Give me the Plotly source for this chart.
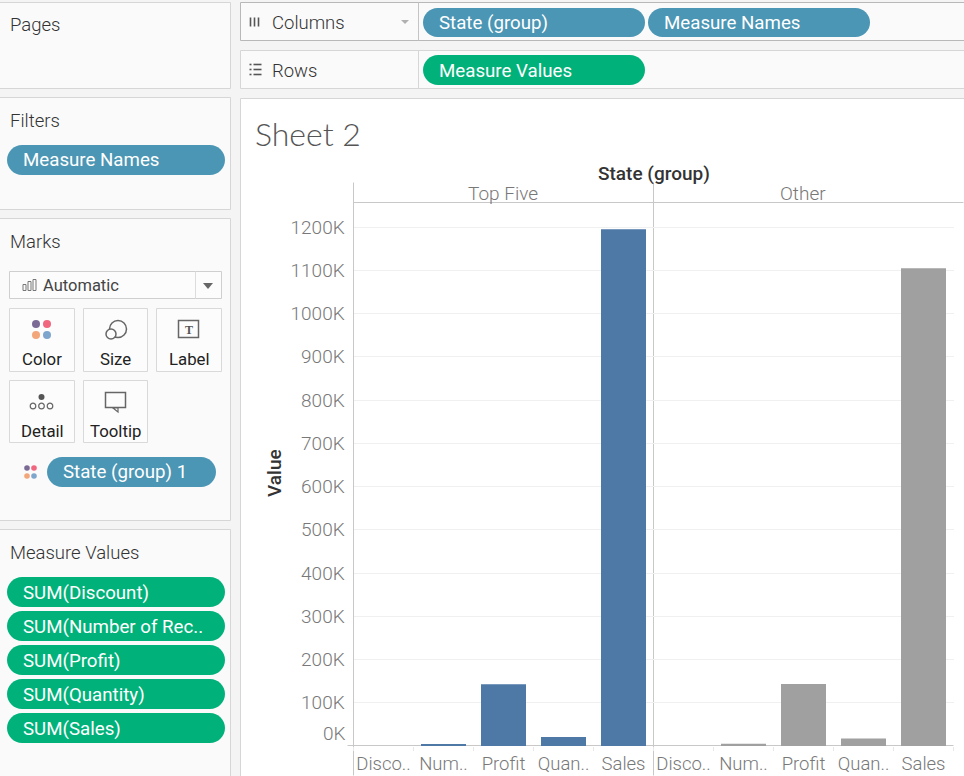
import plotly.graph_objects as go

W, H = 964, 776

# Данные диаграммы
measures = ["Disco..", "Num..", "Profit", "Quan..", "Sales"]
top_five = [0, 4800, 143000, 21000, 1195000]
other = [0, 5000, 143500, 17500, 1105000]
y_ticks = [100000 * i for i in range(1, 13)]
y_labels = [f"{i * 100}K" for i in range(1, 13)]

filter_pills = ["Measure Names"]
value_pills = ["SUM(Discount)", "SUM(Number of Rec..", "SUM(Profit)", "SUM(Quantity)", "SUM(Sales)"]

FONT = "Roboto"
TEAL = "#4b96b4"
GREEN = "#00b27a"
BORDER = "#d6d6d6"
INK = "#333333"
MUTED = "#787878"


def px(x):
    return x / W


def py(y):
    return 1 - y / H


shapes = []
notes = []


def rect(x0, y0, x1, y1, fill="rgba(0,0,0,0)", line=BORDER, width=1):
    shapes.append(dict(type="rect", xref="paper", yref="paper", layer="below",
                       x0=px(x0 - 0.5), x1=px(x1 - 0.5), y0=py(y0 - 0.5), y1=py(y1 - 0.5), fillcolor=fill,
                       line=dict(color=line, width=width)))


def seg(x0, y0, x1, y1, color=BORDER, width=1):
    shapes.append(dict(type="line", xref="paper", yref="paper", layer="below",
                       x0=px(x0 - 0.5), x1=px(x1 - 0.5), y0=py(y0 - 0.5), y1=py(y1 - 0.5),
                       line=dict(color=color, width=width)))


def dot(cx, cy, r, fill="rgba(0,0,0,0)", line="rgba(0,0,0,0)", width=1.5):
    shapes.append(dict(type="circle", xref="paper", yref="paper", layer="below",
                       x0=px(cx - r), x1=px(cx + r), y0=py(cy - r), y1=py(cy + r),
                       fillcolor=fill, line=dict(color=line, width=width)))


def text(x, y, s, size=18.5, color=INK, anchor="left", weight=300, angle=0, family=FONT):
    notes.append(dict(xref="paper", yref="paper", x=px(x), y=py(y), text=s, showarrow=False,
                      xanchor=anchor, yanchor="middle", textangle=angle,
                      font=dict(family=family, size=size, color=color, weight=weight)))


def pill(x0, y0, x1, y1, fill, label):
    r = (y1 - y0) / 2
    k = r * 0.55
    path = (f"M {px(x0 + r)} {py(y0)} L {px(x1 - r)} {py(y0)} "
            f"C {px(x1 - r + k)} {py(y0)} {px(x1)} {py(y0 + r - k)} {px(x1)} {py(y0 + r)} "
            f"C {px(x1)} {py(y0 + r + k)} {px(x1 - r + k)} {py(y1)} {px(x1 - r)} {py(y1)} "
            f"L {px(x0 + r)} {py(y1)} "
            f"C {px(x0 + r - k)} {py(y1)} {px(x0)} {py(y0 + r + k)} {px(x0)} {py(y0 + r)} "
            f"C {px(x0)} {py(y0 + r - k)} {px(x0 + r - k)} {py(y0)} {px(x0 + r)} {py(y0)} Z")
    shapes.append(dict(type="path", xref="paper", yref="paper", layer="below", path=path,
                       fillcolor=fill, line=dict(width=0)))
    text(x0 + 14, (y0 + y1) / 2 + 0.5, label, color="white", size=18.7, weight=400)


# Левые панели
rect(0, 3, 231, 89, "#fafafa")
rect(0, 98, 231, 210, "#fafafa")
rect(0, 219, 231, 521, "#fafafa")
rect(0, 530, 231, 780, "#fafafa")
text(8, 24.5, "Pages")
text(8, 120.5, "Filters")
text(8, 241.5, "Marks")
text(8, 552.5, "Measure Values")

pill(7, 145, 225, 175, TEAL, filter_pills[0])
for i, name in enumerate(value_pills):
    pill(7, 577 + 34 * i, 225, 607 + 34 * i, GREEN, name)

# Карточка Marks
rect(10, 272, 222, 299, "#fcfcfc", "#cfcfcf")
seg(196, 272, 196, 299, "#dcdcdc")
for bx, bh in ((25, 6), (30, 9), (35, 11)):
    rect(bx - 1.5, 291 - bh, bx + 1.5, 291, "rgba(0,0,0,0)", "#777777")
text(41, 285, "Automatic", size=16.5, color="#444444", weight=400)
shapes.append(dict(type="path", xref="paper", yref="paper", layer="below",
                   path=f"M {px(203)} {py(283)} L {px(213)} {py(283)} L {px(208)} {py(289)} Z",
                   fillcolor="#666666", line=dict(width=0)))

for x0, x1, y0, y1, label in ((10, 75, 309, 372, "Color"), (84, 148, 309, 372, "Size"),
                              (157, 222, 309, 372, "Label"), (10, 75, 381, 443, "Detail"),
                              (84, 148, 381, 443, "Tooltip")):
    rect(x0, y0, x1, y1, "#fcfcfc", "#d9d9d9")
    text((x0 + x1) / 2 - 0.5, y0 + 50, label, size=16.8, color="#222222", anchor="center", weight=400)

# Значки карточек
dot(36, 324, 4, "#7b6a96")
dot(47, 324, 4, "#f0667f")
dot(36, 335, 4, "#f2a679")
dot(47, 335, 4, "#7ea6cc")
dot(118, 329, 8.5, "#fcfcfc", "#666666")
dot(111, 334, 5, "#fcfcfc", "#666666")
rect(179, 321, 199, 338, "#fcfcfc", "#666666", 1.5)
text(189, 330, "T", size=12, color="#555555", anchor="center", weight=700, family="Liberation Serif")
dot(41.5, 397, 3, "#555555")
for cx in (33, 41.5, 50):
    dot(cx, 406, 2.8, "rgba(0,0,0,0)", "#666666", 1.2)
rect(106, 393, 126, 408, "#fcfcfc", "#666666", 1.5)
shapes.append(dict(type="path", xref="paper", yref="paper", layer="below",
                   path=f"M {px(113)} {py(408)} L {px(118)} {py(412)} L {px(118)} {py(408)} Z",
                   fillcolor="#fcfcfc", line=dict(color="#666666", width=1.2)))

dot(27, 468, 2.8, "#7b6a96")
dot(34, 468, 2.8, "#f0667f")
dot(27, 476, 2.8, "#f2a679")
dot(34, 476, 2.8, "#7ea6cc")
pill(47, 457, 216, 487, TEAL, "State (group) 1")

# Полки Columns и Rows
rect(241, 3, 980, 41, "#fafafa", "#b8b8b8")
seg(419, 3, 419, 41, "#c4c4c4")
rect(241, 51, 980, 89, "#fafafa", BORDER)
seg(419, 51, 419, 89, BORDER)
for vx in (251, 255, 259):
    seg(vx, 18, vx, 27, "#555555", 1.6)
for vy in (65, 70, 75):
    seg(250, vy, 252, vy, "#555555", 1.6)
    seg(254, vy, 262, vy, "#555555", 1.6)
text(270, 22.5, "Columns")
text(270, 70.5, "Rows")
shapes.append(dict(type="path", xref="paper", yref="paper", layer="below",
                   path=f"M {px(401)} {py(20)} L {px(409)} {py(20)} L {px(405)} {py(24)} Z",
                   fillcolor="#b0b0b0", line=dict(width=0)))
pill(423, 8, 645, 37, TEAL, "State (group)")
pill(648, 8, 870, 37, TEAL, "Measure Names")
pill(423, 55, 645, 85, GREEN, "Measure Values")

# Область листа
rect(241, 99, 980, 780, "white", BORDER)
text(253, 133, "Sheet 2", size=32, color="#555555", family="Lato")
text(653.5, 173, "State (group)", size=19, color="#333333", anchor="center", weight=500)
text(274, 473, "Value", size=19, color="#333333", anchor="center", weight=500, angle=-90)
text(503, 193, "Top Five", size=19, color=MUTED, anchor="center", weight=300)
text(803, 193, "Other", size=19, color=MUTED, anchor="center", weight=300)
seg(354, 183, 354, 776, "#c8c8c8")
seg(654, 183, 654, 776, "#c8c8c8")
seg(354, 203, 964, 203, "#c8c8c8")
seg(348, 746, 954, 746, "#c8c8c8")

notes.append(dict(xref="paper", yref="y", x=px(348), y=0, yshift=13, text="0K", showarrow=False,
                  xanchor="right", yanchor="middle",
                  font=dict(family=FONT, size=19, color=MUTED, weight=300)))

fig = go.Figure()
fig.add_trace(go.Bar(x=measures, y=top_five, marker_color="#4e79a7", name="Top Five", xaxis="x", yaxis="y"))
fig.add_trace(go.Bar(x=measures, y=other, marker_color="#a0a0a0", name="Other", xaxis="x2", yaxis="y"))

x_common = dict(type="category", categoryorder="array", categoryarray=measures, range=[-0.5, 4.5],
                showgrid=False, showline=False, zeroline=False, tickson="boundaries", ticks="outside",
                ticklen=4, tickcolor="#e8e8e8", anchor="y", tickangle=0, automargin=False,
                ticklabelstandoff=4, tickfont=dict(family=FONT, size=18.5, color=MUTED, weight=300))
fig.update_layout(
    template="none",
    width=W, height=H, margin=dict(l=0, r=0, t=0, b=0),
    paper_bgcolor="#f4f4f4", plot_bgcolor="rgba(0,0,0,0)",
    showlegend=False, bargap=0.25,
    xaxis=dict(domain=[px(353.5), px(653.5)], **x_common),
    xaxis2=dict(domain=[px(653.5), px(953.5)], **x_common),
    yaxis=dict(domain=[py(746), py(203)], range=[0, 1255600], tickmode="array",
               tickvals=y_ticks, ticktext=y_labels, showgrid=True, gridcolor="#f0f0f0",
               zeroline=False, showline=False, ticks="outside", ticklen=4, tickcolor="rgba(0,0,0,0)",
               automargin=False, tickfont=dict(family=FONT, size=19, color=MUTED, weight=300)),
    shapes=shapes, annotations=notes,
)

fig.write_html("out.html", config=dict(displayModeBar=False),
               post_script="document.body.style.margin='0';document.body.style.overflow='hidden';")
